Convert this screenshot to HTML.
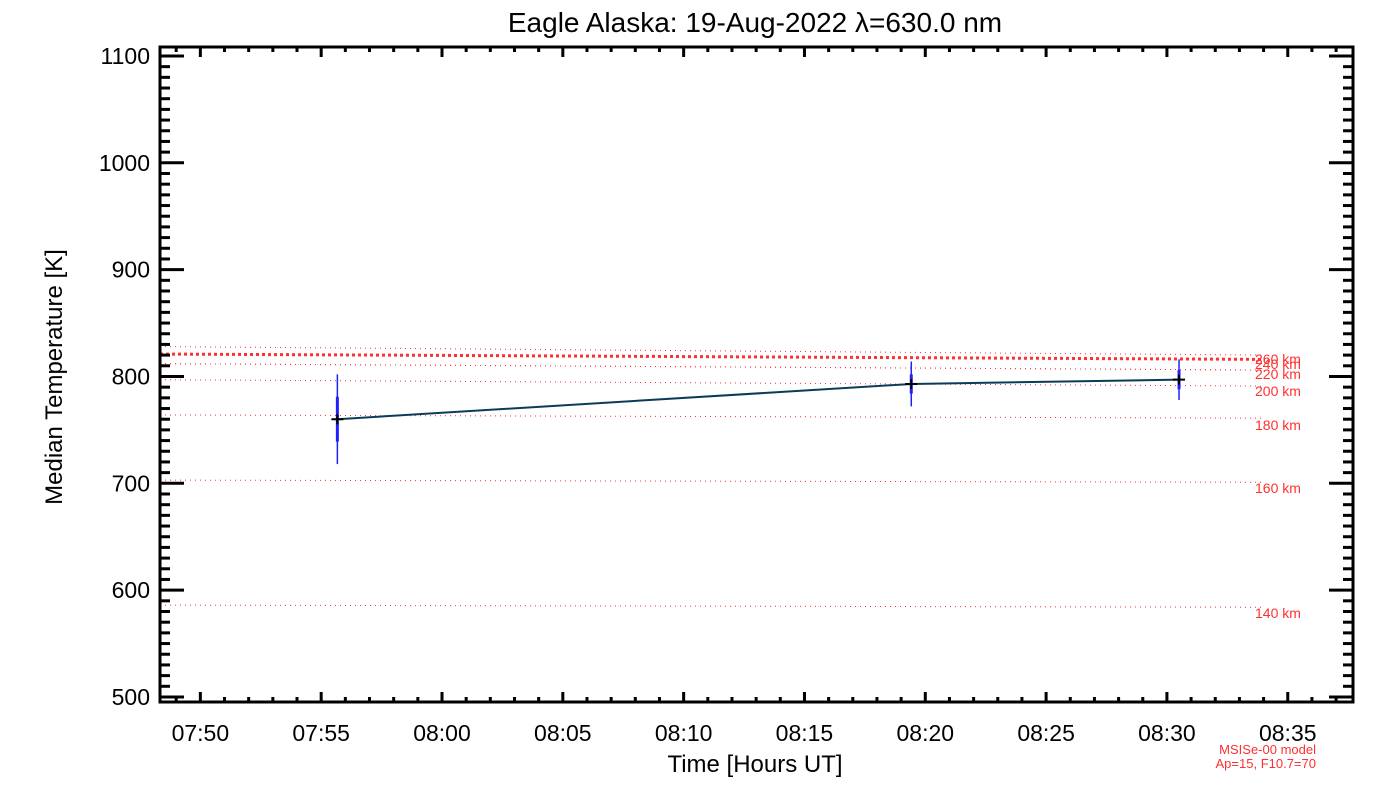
<!DOCTYPE html>
<html><head><meta charset="utf-8"><style>
html,body{margin:0;padding:0;background:#fff;}
svg text{font-family:"Liberation Sans",sans-serif;}
</style></head><body>
<svg id="chart" width="1400" height="800" viewBox="0 0 1400 800" xmlns="http://www.w3.org/2000/svg">
<rect width="1400" height="800" fill="#fff"/>
<text x="755" y="32" font-size="28" text-anchor="middle" fill="#000">Eagle Alaska: 19-Aug-2022 λ=630.0 nm</text>
<text x="0" y="0" font-size="24" text-anchor="middle" fill="#000" transform="translate(62,377) rotate(-90)">Median Temperature [K]</text>
<text x="755" y="772" font-size="24" text-anchor="middle" fill="#000">Time [Hours UT]</text>
<text x="1316" y="754" font-size="13" text-anchor="end" fill="#ff3030">MSISe-00 model</text>
<text x="1316" y="768" font-size="13" text-anchor="end" fill="#ff3030">Ap=15, F10.7=70</text>
<g id="model"></g>
<g id="series"></g>
<g id="axes"></g>
</svg>
<script>
// data
const yTicks=[500,600,700,800,900,1000,1100];
const xTickLabels=["07:50","07:55","08:00","08:05","08:10","08:15","08:20","08:25","08:30","08:35"];
const xTickMinutes=[470,475,480,485,490,495,500,505,510,515];
const obsTimes=[475.67,499.42,510.5]; // minutes since 00:00 UT
const obsTemps=[760,793,797];
const obsErrOuter=[42,21,19];
const obsErrInner=[21,9,9];
const modelAlts=["140 km","160 km","180 km","200 km","220 km","240 km","260 km"];
const modelStart=[586,703,764,797,812,812,821];
const modelEnd=[584,701,761,791,806,806,816];
const labelY=[618,493,430,396,379,369,364];

const NS="http://www.w3.org/2000/svg";
const L=160,R=1353,T=47,B=702;
const xMin=468.33,xMax=517.7,yMin=495.3,yMax=1108.4;
const X=m=>L+(m-xMin)/(xMax-xMin)*(R-L);
const Y=v=>B-(v-yMin)/(yMax-yMin)*(B-T);
function mk(tag,attrs,parent){const e=document.createElementNS(NS,tag);for(const k in attrs)e.setAttribute(k,attrs[k]);parent.appendChild(e);return e;}
const axes=document.getElementById('axes'),series=document.getElementById('series'),model=document.getElementById('model');

modelAlts.forEach((a,i)=>{
  const thick=i===6;
  const ln=mk('line',{x1:L,x2:1265,y1:Y(modelStart[i]),y2:Y(modelEnd[i]),stroke:'#ff3030','stroke-width':thick?3:1,'stroke-dasharray':thick?'3 3':'1 4'},model);
  
  
  const tx=mk('text',{x:1255,y:labelY[i],'font-size':14,fill:'#ff3030'},model);
  tx.textContent=a;
  
  
});
const ex=mk('line',{x1:L,x2:1265,y1:Y(828),y2:Y(820),stroke:'#ff3030','stroke-width':1,'stroke-dasharray':'1 4'},model);



const pts=obsTimes.map((t,i)=>X(t)+','+Y(obsTemps[i])).join(' ');
const pl=mk('polyline',{points:pts,fill:'none',stroke:'#0a3c5a','stroke-width':2},series);


obsTimes.forEach((t,i)=>{
  const x=X(t),y=Y(obsTemps[i]);
  const e1=mk('line',{x1:x,x2:x,y1:Y(obsTemps[i]+obsErrOuter[i]),y2:Y(obsTemps[i]-obsErrOuter[i]),stroke:'#2020ff','stroke-width':1.5},series);
  
  
  const e2=mk('line',{x1:x,x2:x,y1:Y(obsTemps[i]+obsErrInner[i]),y2:Y(obsTemps[i]-obsErrInner[i]),stroke:'#2020ff','stroke-width':3},series);
  
  
  const p=mk('path',{d:`M${x-6},${y}H${x+6}M${x},${y-5}V${y+5}`,stroke:'#000','stroke-width':2},series);
  
  
});

const fr=mk('rect',{x:L,y:T,width:R-L,height:B-T,fill:'none',stroke:'#000','stroke-width':3},axes);


for(let v=500;v<=1100;v+=10){
  const major=v%100===0,len=major?24:10,y=Y(v);
  mk('line',{x1:L,x2:L+len,y1:y,y2:y,stroke:'#000','stroke-width':3},axes);
  mk('line',{x1:R,x2:R-len,y1:y,y2:y,stroke:'#000','stroke-width':3},axes);
}
yTicks.forEach(v=>{
  const t=mk('text',{x:150,y:Y(v)+8,'font-size':23,'text-anchor':'end',fill:'#000'},axes);
  t.textContent=v;
  
  
});
for(let m=469;m<=517;m++){
  const major=m%5===0,len=major?10:5,x=X(m);
  mk('line',{x1:x,x2:x,y1:B,y2:B-len,stroke:'#000','stroke-width':3},axes);
  mk('line',{x1:x,x2:x,y1:T,y2:T+len,stroke:'#000','stroke-width':3},axes);
}
xTickLabels.forEach((s,i)=>{
  const t=mk('text',{x:X(xTickMinutes[i]),y:741,'font-size':23,'text-anchor':'middle',fill:'#000'},axes);
  t.textContent=s;
  
  
});
</script>
</body></html>
